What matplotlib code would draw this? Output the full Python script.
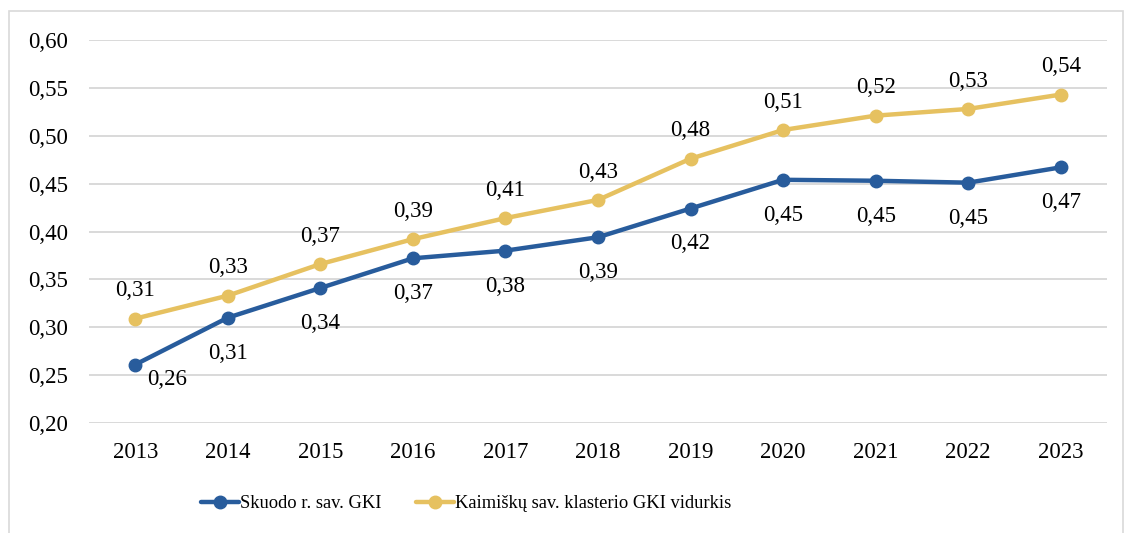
import matplotlib
matplotlib.use("Agg")
import matplotlib.pyplot as plt
from matplotlib.patches import Rectangle

years = ["2013", "2014", "2015", "2016", "2017", "2018", "2019", "2020", "2021", "2022", "2023"]
skuodo = [0.261, 0.310, 0.341, 0.372, 0.380, 0.394, 0.424, 0.454, 0.453, 0.451, 0.467]
kaimisku = [0.309, 0.333, 0.366, 0.392, 0.414, 0.433, 0.476, 0.506, 0.521, 0.528, 0.543]
series_names = ["Skuodo r. sav. GKI", "Kaimiškų sav. klasterio GKI vidurkis"]
yticks = [0.20, 0.25, 0.30, 0.35, 0.40, 0.45, 0.50, 0.55, 0.60]

blue = "#285C9C"
yellow = "#E6C160"

plt.rcParams["font.family"] = ["Liberation Serif", "DejaVu Serif"]
FS = 16.5

fig = plt.figure(figsize=(11.33, 5.33), dpi=100)
ax = fig.add_axes([89/1133, 1-423/533, (1107-89)/1133, (423-40)/533])

x = list(range(len(years)))
ax.plot(x, skuodo, color=blue, lw=3.2, marker="o", ms=9, label=series_names[0], zorder=3, solid_capstyle="round")
ax.plot(x, kaimisku, color=yellow, lw=3.2, marker="o", ms=9, label=series_names[1], zorder=3, solid_capstyle="round")

def fmt(v):
    return f"{v:.2f}".replace(".", ",")

for i, v in enumerate(kaimisku):
    ax.annotate(fmt(v), (i, v), xytext=(0, 20), textcoords="offset points",
                ha="center", va="center", fontsize=FS)
for i, v in enumerate(skuodo):
    if i == 0:
        off = (23, -11)
    else:
        off = (0, -25.5)
    ax.annotate(fmt(v), (i, v), xytext=off, textcoords="offset points",
                ha="center", va="center", fontsize=FS)

ax.set_xlim(-0.5, len(years) - 0.5)
ax.set_ylim(0.20, 0.60)
ax.set_yticks(yticks)
ax.set_yticklabels([fmt(t) for t in yticks], fontsize=FS)
ax.set_xticks(x)
ax.set_xticklabels(years, fontsize=FS)
ax.tick_params(length=0)
ax.tick_params(axis="x", pad=14)
ax.tick_params(axis="y", pad=15)
ax.grid(axis="y", color="#D9D9D9", lw=1.4)
ax.set_axisbelow(True)
for s in ax.spines.values():
    s.set_visible(False)

fig.patches.append(Rectangle((9/1133, -0.1), (1123-9)/1133, 1.1 - 11/533, transform=fig.transFigure,
                             fill=False, edgecolor="#D9D9D9", lw=1.2))

fig.legend(loc="center", bbox_to_anchor=(466/1133, 1-504/533), ncol=2, frameon=False,
           fontsize=13.3, handlelength=2.05, handletextpad=0.05, columnspacing=1.9)

fig.savefig("out.png", dpi=100)
